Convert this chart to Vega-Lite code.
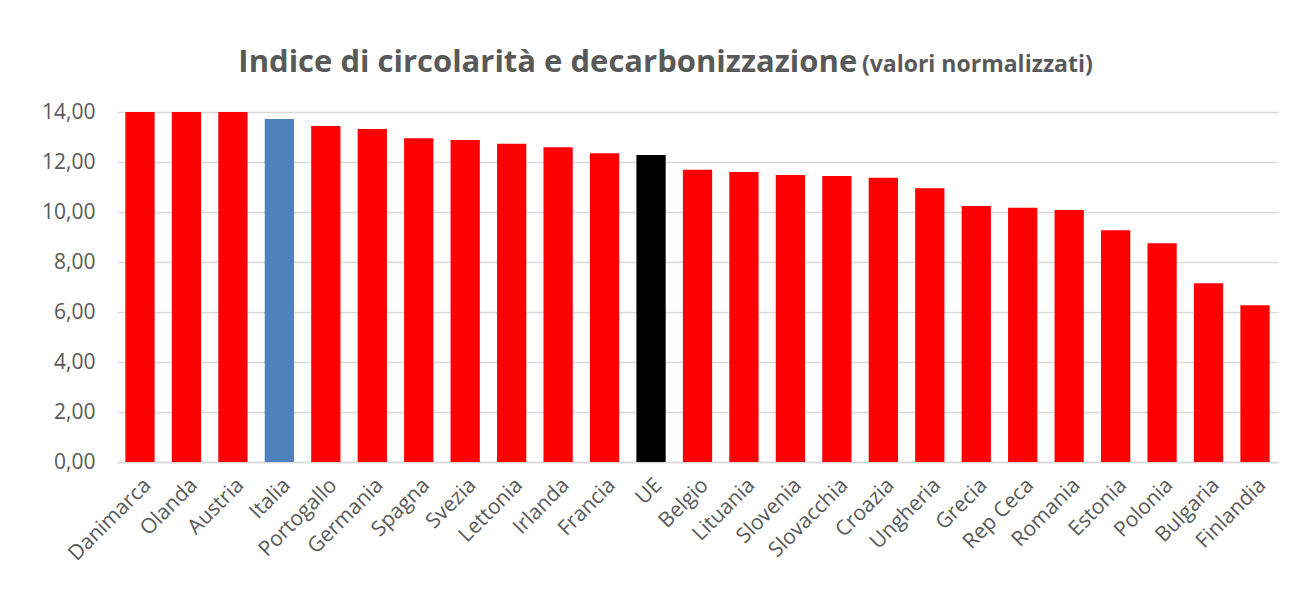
{
  "$schema": "https://vega.github.io/schema/vega-lite/v6.json",
  "width": 1161,
  "height": 350,
  "autosize": {"type": "none"},
  "padding": {"left": 117, "top": 112, "right": 32, "bottom": 127},
  "background": "white",
  "config": {
    "locale": {"number": {"decimal": ",", "thousands": ".", "grouping": [3], "currency": ["", " €"]}},
    "view": {"stroke": null},
    "font": "Open Sans"
  },
  "data": {
    "values": [
      {"paese": "Danimarca", "valore": 14.0, "gruppo": "Paese"},
      {"paese": "Olanda", "valore": 14.0, "gruppo": "Paese"},
      {"paese": "Austria", "valore": 14.0, "gruppo": "Paese"},
      {"paese": "Italia", "valore": 13.72, "gruppo": "Italia"},
      {"paese": "Portogallo", "valore": 13.44, "gruppo": "Paese"},
      {"paese": "Germania", "valore": 13.32, "gruppo": "Paese"},
      {"paese": "Spagna", "valore": 12.95, "gruppo": "Paese"},
      {"paese": "Svezia", "valore": 12.88, "gruppo": "Paese"},
      {"paese": "Lettonia", "valore": 12.73, "gruppo": "Paese"},
      {"paese": "Irlanda", "valore": 12.59, "gruppo": "Paese"},
      {"paese": "Francia", "valore": 12.35, "gruppo": "Paese"},
      {"paese": "UE", "valore": 12.28, "gruppo": "UE"},
      {"paese": "Belgio", "valore": 11.69, "gruppo": "Paese"},
      {"paese": "Lituania", "valore": 11.6, "gruppo": "Paese"},
      {"paese": "Slovenia", "valore": 11.48, "gruppo": "Paese"},
      {"paese": "Slovacchia", "valore": 11.44, "gruppo": "Paese"},
      {"paese": "Croazia", "valore": 11.37, "gruppo": "Paese"},
      {"paese": "Ungheria", "valore": 10.95, "gruppo": "Paese"},
      {"paese": "Grecia", "valore": 10.24, "gruppo": "Paese"},
      {"paese": "Rep Ceca", "valore": 10.17, "gruppo": "Paese"},
      {"paese": "Romania", "valore": 10.08, "gruppo": "Paese"},
      {"paese": "Estonia", "valore": 9.27, "gruppo": "Paese"},
      {"paese": "Polonia", "valore": 8.75, "gruppo": "Paese"},
      {"paese": "Bulgaria", "valore": 7.15, "gruppo": "Paese"},
      {"paese": "Finlandia", "valore": 6.27, "gruppo": "Paese"}
    ]
  },
  "layer": [
    {
      "mark": {"type": "bar"},
      "encoding": {
        "x": {
          "field": "paese",
          "type": "nominal",
          "sort": null,
          "scale": {"paddingInner": 0.37, "paddingOuter": 0.18},
          "axis": {
            "title": null,
            "labelAngle": -45,
            "labelFont": "Open Sans",
            "labelFontSize": 21,
            "labelColor": "#595959",
            "domainColor": "#d9d9d9",
            "domainWidth": 1.5,
            "ticks": false,
            "labelPadding": 12
          }
        },
        "y": {
          "field": "valore",
          "type": "quantitative",
          "scale": {"domain": [0, 14]},
          "axis": {
            "title": null,
            "values": [0, 2, 4, 6, 8, 10, 12, 14],
            "format": ".2f",
            "labelFont": "Open Sans",
            "labelFontSize": 21,
            "labelColor": "#595959",
            "gridColor": "#d9d9d9",
            "gridWidth": 1.5,
            "domain": false,
            "ticks": false,
            "labelPadding": 22
          }
        },
        "color": {
          "field": "gruppo",
          "type": "nominal",
          "scale": {"domain": ["Paese", "Italia", "UE"], "range": ["#ff0000", "#4f81bd", "#000000"]},
          "legend": null
        }
      }
    },
    {
      "data": {"values": [{"testo": "Indice di circolarità e decarbonizzazione"}]},
      "mark": {"type": "text", "align": "left", "baseline": "alphabetic", "dx": -41, "font": "Open Sans", "fontSize": 31, "fontWeight": "bold", "color": "#595959"},
      "encoding": {
        "x": {"datum": "Italia"},
        "y": {"datum": 15.6},
        "text": {"field": "testo"}
      }
    },
    {
      "data": {"values": [{"testo": "(valori normalizzati)"}]},
      "mark": {"type": "text", "align": "left", "baseline": "alphabetic", "dx": 25, "font": "Open Sans", "fontSize": 23, "fontWeight": "bold", "color": "#595959"},
      "encoding": {
        "x": {"datum": "Slovacchia"},
        "y": {"datum": 15.6},
        "text": {"field": "testo"}
      }
    }
  ]
}
